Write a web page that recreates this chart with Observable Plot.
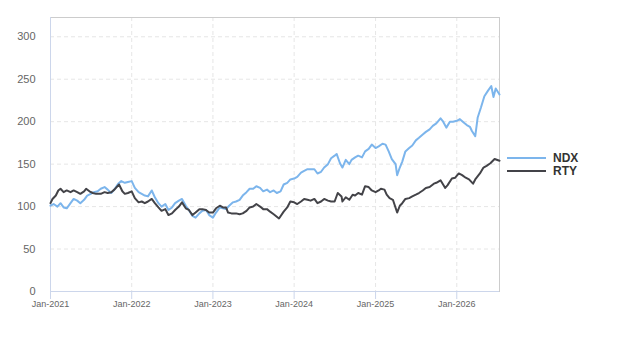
<!DOCTYPE html>
<html>
<head>
<meta charset="utf-8">
<script src="https://cdn.jsdelivr.net/npm/d3@7"></script>
<script src="https://cdn.jsdelivr.net/npm/@observablehq/plot@0.6"></script>
<style>
  body { margin: 0; background: #fff; font-family: Arial, "Liberation Sans", sans-serif; }
  #wrap { position: relative; width: 623px; height: 350px; }
  .legend-item { position: absolute; left: 507px; display: flex; align-items: center; height: 14px;
    font: bold 12px Arial, "Liberation Sans", sans-serif; color: #333; white-space: nowrap; }
  .legend-swatch { width: 39px; height: 2px; margin-right: 7px; }
</style>
</head>
<body>
<div id="wrap"></div>
<script>
// Index levels (start = 100), roughly semi-monthly
const ndx = [
  ["2021-01-01",101],["2021-01-15",103],["2021-02-01",100],["2021-02-15",104],["2021-03-01",99],
  ["2021-03-15",98],["2021-04-01",104],["2021-04-15",109],["2021-05-01",107],["2021-05-15",104],
  ["2021-06-01",108],["2021-06-15",113],["2021-07-01",115],["2021-07-15",117],["2021-08-01",118],
  ["2021-08-15",121],["2021-09-01",123],["2021-09-15",120],["2021-10-01",116],["2021-10-15",120],
  ["2021-11-01",127],["2021-11-15",130],["2021-12-01",128],["2021-12-15",129],["2022-01-01",130],
  ["2022-01-15",122],["2022-02-01",117],["2022-02-15",115],["2022-03-01",113],["2022-03-15",112],
  ["2022-04-01",119],["2022-04-15",111],["2022-05-01",104],["2022-05-15",100],["2022-06-01",103],
  ["2022-06-15",96],["2022-07-01",99],["2022-07-15",104],["2022-08-01",107],["2022-08-15",109],
  ["2022-09-01",101],["2022-09-15",96],["2022-10-01",89],["2022-10-15",87],["2022-11-01",92],
  ["2022-11-15",95],["2022-12-01",96],["2022-12-15",90],["2023-01-01",87],["2023-01-15",93],
  ["2023-02-01",99],["2023-02-15",98],["2023-03-01",97],["2023-03-15",101],["2023-04-01",105],
  ["2023-04-15",106],["2023-05-01",108],["2023-05-15",113],["2023-06-01",117],["2023-06-15",121],
  ["2023-07-01",121],["2023-07-15",124],["2023-08-01",122],["2023-08-15",118],["2023-09-01",120],
  ["2023-09-15",117],["2023-10-01",119],["2023-10-15",116],["2023-11-01",118],["2023-11-15",126],
  ["2023-12-01",128],["2023-12-15",132],["2024-01-01",133],["2024-01-15",135],["2024-02-01",140],
  ["2024-02-15",142],["2024-03-01",144],["2024-03-15",144],["2024-04-01",144],["2024-04-15",139],
  ["2024-05-01",141],["2024-05-15",146],["2024-06-01",150],["2024-06-15",157],["2024-07-01",160],
  ["2024-07-10",162],["2024-07-25",151],["2024-08-05",146],["2024-08-20",155],["2024-09-05",150],
  ["2024-09-15",155],["2024-10-01",158],["2024-10-15",160],["2024-11-01",158],["2024-11-15",165],
  ["2024-12-01",168],["2024-12-15",173],["2025-01-01",169],["2025-01-15",171],["2025-02-01",174],
  ["2025-02-15",173],["2025-03-01",165],["2025-03-15",156],["2025-04-01",150],["2025-04-08",137],
  ["2025-04-20",146],["2025-05-01",153],["2025-05-15",165],["2025-06-01",169],["2025-06-15",172],
  ["2025-07-01",178],["2025-07-15",181],["2025-08-01",185],["2025-08-15",188],["2025-09-01",191],
  ["2025-09-15",195],["2025-10-01",198],["2025-10-20",204],["2025-11-01",200],["2025-11-15",193],
  ["2025-12-01",200],["2025-12-15",200],["2026-01-01",201],["2026-01-15",203],["2026-02-01",199],
  ["2026-02-15",196],["2026-03-01",194],["2026-03-10",189],["2026-03-25",183],["2026-04-05",205],
  ["2026-04-20",217],["2026-05-05",230],["2026-05-20",236],["2026-06-05",242],["2026-06-15",229],
  ["2026-06-25",239],["2026-07-12",232]
];

const rty = [
  ["2021-01-01",104],["2021-01-10",109],["2021-01-25",113],["2021-02-05",119],["2021-02-15",121],
  ["2021-03-01",117],["2021-03-15",119],["2021-04-01",117],["2021-04-15",119],["2021-05-01",117],
  ["2021-05-15",115],["2021-06-01",118],["2021-06-10",121],["2021-06-25",118],["2021-07-10",116],
  ["2021-07-25",115],["2021-08-15",115],["2021-09-01",117],["2021-09-15",116],["2021-10-01",117],
  ["2021-10-15",120],["2021-11-05",126],["2021-11-20",118],["2021-12-01",115],["2021-12-15",116],
  ["2022-01-01",118],["2022-01-15",110],["2022-02-01",105],["2022-02-15",106],["2022-03-01",104],
  ["2022-03-15",106],["2022-04-01",109],["2022-04-15",104],["2022-05-01",99],["2022-05-15",95],
  ["2022-06-01",97],["2022-06-15",90],["2022-07-01",92],["2022-07-15",96],["2022-08-01",100],
  ["2022-08-15",105],["2022-09-01",98],["2022-09-15",96],["2022-10-01",90],["2022-10-15",93],
  ["2022-11-01",97],["2022-11-15",97],["2022-12-01",96],["2022-12-15",93],["2023-01-01",93],
  ["2023-01-15",98],["2023-02-01",101],["2023-02-15",99],["2023-03-01",99],["2023-03-10",93],
  ["2023-03-25",92],["2023-04-15",92],["2023-05-01",91],["2023-05-15",92],["2023-06-01",95],
  ["2023-06-15",99],["2023-07-01",100],["2023-07-15",103],["2023-08-01",100],["2023-08-15",97],
  ["2023-09-01",97],["2023-09-15",94],["2023-10-01",91],["2023-10-25",86],["2023-11-15",94],
  ["2023-12-01",99],["2023-12-15",106],["2024-01-01",105],["2024-01-15",103],["2024-02-01",106],
  ["2024-02-15",109],["2024-03-01",108],["2024-03-15",107],["2024-04-01",109],["2024-04-15",104],
  ["2024-05-01",106],["2024-05-15",109],["2024-06-01",107],["2024-06-15",106],["2024-07-01",106],
  ["2024-07-15",116],["2024-08-01",112],["2024-08-05",106],["2024-08-20",111],["2024-09-05",108],
  ["2024-09-20",114],["2024-10-01",113],["2024-10-15",116],["2024-11-01",114],["2024-11-15",124],
  ["2024-12-01",123],["2024-12-15",119],["2025-01-01",117],["2025-01-15",119],["2025-01-25",121],
  ["2025-02-10",120],["2025-02-20",114],["2025-03-05",110],["2025-03-20",108],["2025-04-08",93],
  ["2025-04-20",101],["2025-05-01",104],["2025-05-15",109],["2025-06-01",110],["2025-06-15",112],
  ["2025-07-01",114],["2025-07-15",116],["2025-08-01",119],["2025-08-15",122],["2025-09-01",123],
  ["2025-09-20",127],["2025-10-01",128],["2025-10-20",131],["2025-11-10",122],["2025-11-20",125],
  ["2025-12-10",133],["2025-12-25",134],["2026-01-10",139],["2026-01-25",137],["2026-02-10",134],
  ["2026-02-25",132],["2026-03-15",127],["2026-03-25",132],["2026-04-15",139],["2026-05-01",146],
  ["2026-05-15",148],["2026-06-01",151],["2026-06-20",156],["2026-07-12",154]
];

const seriesNames = ["NDX", "RTY"];
const seriesColors = ["#7cb5ec", "#434348"];
const yTicks = [0, 50, 100, 150, 200, 250, 300];
const xTickDates = ["2021-01-01", "2022-01-01", "2023-01-01", "2024-01-01", "2025-01-01", "2026-01-01"];

const rows = [
  ...ndx.map(([d, v]) => ({series: "NDX", date: new Date(d), value: v})),
  ...rty.map(([d, v]) => ({series: "RTY", date: new Date(d), value: v}))
];
const xDomain = d3.extent(rows, r => r.date);
const xTicks = xTickDates.map(d => new Date(d));

const chart = Plot.plot({
  width: 623,
  height: 350,
  marginLeft: 50,
  marginRight: 124,
  marginTop: 17,
  marginBottom: 59,
  style: {fontFamily: "Arial, 'Liberation Sans', sans-serif", background: "#fff"},
  x: {type: "utc", domain: xDomain},
  y: {domain: [0, 322.7]},
  color: {domain: seriesNames, range: seriesColors},
  marks: [
    Plot.gridY(yTicks, {stroke: "#e6e6e6", strokeOpacity: 1, strokeDasharray: "4,3"}),
    Plot.gridX(xTicks, {stroke: "#e6e6e6", strokeOpacity: 1, strokeDasharray: "4,3"}),
    Plot.frame({stroke: "#cccccc"}),
    Plot.ruleY([0], {stroke: "#ccd6eb"}),
    Plot.ruleX([xDomain[0]], {stroke: "#ccd6eb"}),
    Plot.axisY(yTicks, {tickSize: 0, tickPadding: 15, fontSize: 11, fill: "#666", label: null}),
    Plot.axisX(xTicks, {tickSize: 8, tickPadding: 1, fontSize: 9, fill: "#666", stroke: "#ccd6eb",
      tickFormat: d3.utcFormat("%b-%Y"), label: null}),
    Plot.lineY(rows, {x: "date", y: "value", z: "series", stroke: "series",
      strokeWidth: 2, strokeLinejoin: "round", strokeLinecap: "round"})
  ]
});

const wrap = document.getElementById("wrap");
wrap.appendChild(chart);

// Legend to the right of the plot area
seriesNames.forEach((name, i) => {
  const item = document.createElement("div");
  item.className = "legend-item";
  item.style.top = (151 + i * 13.3) + "px";
  const sw = document.createElement("div");
  sw.className = "legend-swatch";
  sw.style.background = seriesColors[i];
  const label = document.createElement("span");
  label.textContent = name;
  item.appendChild(sw);
  item.appendChild(label);
  wrap.appendChild(item);
});
</script>
</body>
</html>
